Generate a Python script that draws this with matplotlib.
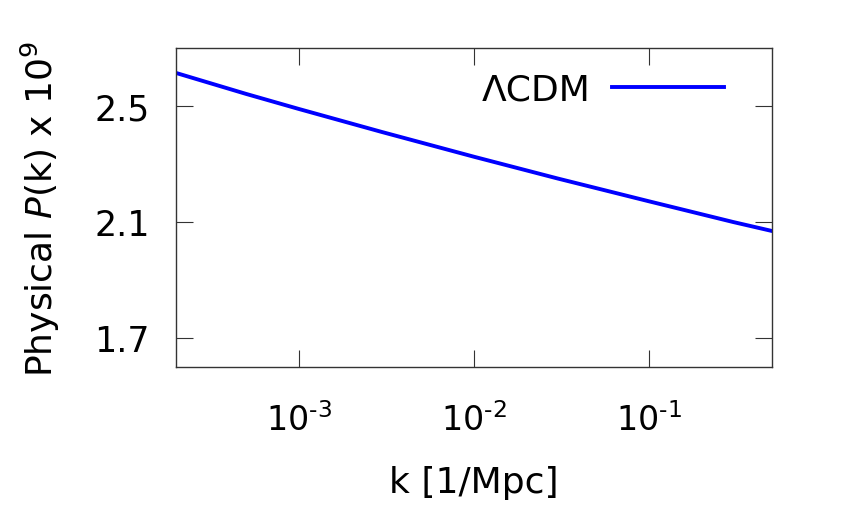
import matplotlib
matplotlib.use('Agg')
import matplotlib.pyplot as plt
from matplotlib.ticker import FixedLocator, NullLocator

# values (k in 1/Mpc, P(k) x 1e9)
k_vals = [2e-4, 5e-4, 1e-3, 3e-3, 1e-2, 3e-2, 1e-1, 3e-1, 5e-1]
pk_vals = [2.614, 2.542, 2.490, 2.410, 2.325, 2.250, 2.171, 2.100, 2.069]
series_label = 'ΛCDM'

x_ticks = [1e-3, 1e-2, 1e-1]
x_ticklabels = [r'$10^{\text{-3}}$', r'$10^{\text{-2}}$', r'$10^{\text{-1}}$']
y_ticks = [1.7, 2.1, 2.5]
y_ticklabels = ['1.7', '2.1', '2.5']

plt.rcParams['font.family'] = ['DejaVu Sans']
plt.rcParams['mathtext.fontset'] = 'dejavusans'

fig = plt.figure(figsize=(8.43, 5.06), dpi=100)
ax = fig.add_axes([176/843, 1 - 368/506, 596/843, 319/506])

ax.plot(k_vals, pk_vals, color='#0000ff', lw=2.8, label=series_label)

ax.set_xscale('log')
ax.set_xlim(2e-4, 0.5)
ax.set_ylim(1.6, 2.7)
ax.xaxis.set_major_locator(FixedLocator(x_ticks))
ax.xaxis.set_minor_locator(NullLocator())
ax.set_xticklabels(x_ticklabels)
ax.set_yticks(y_ticks)
ax.set_yticklabels(y_ticklabels)

for s in ax.spines.values():
    s.set_color('#333333')
    s.set_linewidth(1.0)
ax.tick_params(which='both', direction='in', length=12, width=0.8, color='#333333',
               top=True, right=True)
ax.tick_params(axis='y', pad=19, labelsize=25)
ax.tick_params(axis='x', pad=25, labelsize=24)

ax.set_xlabel('k [1/Mpc]', fontsize=26)
ax.set_ylabel(r'Physical $P$(k) x 10$^9$', fontsize=26)
ax.yaxis.label.set_va('baseline')
ax.yaxis.set_label_coords((53 - 176) / 596, 0.5)
ax.xaxis.set_label_coords(0.5, -(493 - 368) / 319)
ax.xaxis.label.set_va('baseline')

ax.legend(loc='center right', bbox_to_anchor=(548/596, (368 - 91)/319), frameon=False,
          markerfirst=False, fontsize=26, handlelength=3.1, handletextpad=0.6,
          borderpad=0, borderaxespad=0)

plt.savefig('out.png', dpi=100)
